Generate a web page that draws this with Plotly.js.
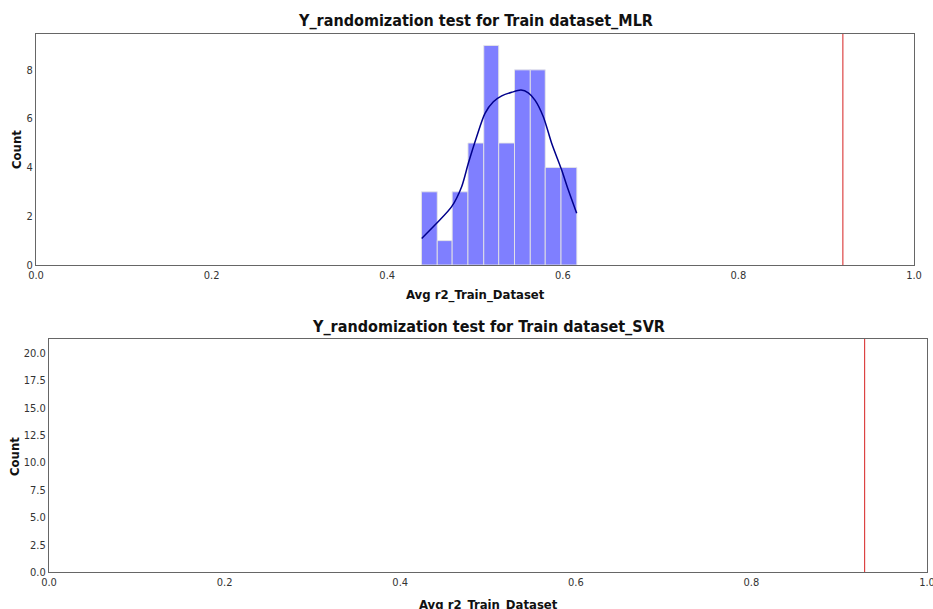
<!DOCTYPE html>
<html>
<head>
<meta charset="utf-8">
<script src="https://cdn.plot.ly/plotly-3.0.1.min.js"></script>
<style>html,body{margin:0;padding:0;background:#fff;}#chart{width:933px;height:609px;}</style>
</head>
<body>
<div id="chart"></div>
<script>
// Histogram of MLR Y-randomization r2 values (bin edges and counts)
const mlrBinEdges = [0.439, 0.457, 0.474, 0.492, 0.510, 0.527, 0.545, 0.563, 0.580, 0.598, 0.616];
const mlrCounts = [3, 1, 3, 5, 9, 5, 8, 8, 4, 4];
// KDE curve
const kdeX = [0.4393, 0.4563, 0.4734, 0.4848, 0.4924, 0.5019, 0.5114, 0.5209, 0.5304, 0.5418, 0.5524, 0.5607, 0.5683, 0.5778, 0.5873, 0.5987, 0.6063, 0.6158];
const kdeY = [1.09, 1.71, 2.39, 3.21, 4.17, 5.26, 6.22, 6.69, 6.93, 7.08, 7.17, 7.06, 6.76, 6.08, 4.99, 3.89, 3.07, 2.12];
// Actual model r2 values (red reference lines)
const mlrActualR2 = 0.919;
const svrActualR2 = 0.929;
// Axis ticks
const xTicks = [0.0, 0.2, 0.4, 0.6, 0.8, 1.0];
const yTicksTop = [0, 2, 4, 6, 8];
const yTicksBottom = [0, 2.5, 5, 7.5, 10, 12.5, 15, 17.5, 20];
const titles = ["Y_randomization test for Train dataset_MLR", "Y_randomization test for Train dataset_SVR"];
const xTitle = "Avg r2_Train_Dataset";
const yTitle = "Count";

const centers = mlrCounts.map((c, i) => (mlrBinEdges[i] + mlrBinEdges[i + 1]) / 2);
const widths = mlrCounts.map((c, i) => mlrBinEdges[i + 1] - mlrBinEdges[i]);

const tickFont = {family: "DejaVu Sans Condensed, DejaVu Sans", size: 11, color: "#333"};
const boldFont = (s) => ({family: "DejaVu Sans Condensed, DejaVu Sans", size: s, color: "#111", weight: "bold"});

const traces = [
  {type: "bar", x: centers, y: mlrCounts, width: widths, xaxis: "x", yaxis: "y",
   marker: {color: "rgba(0,0,255,0.5)", line: {color: "rgba(230,230,230,0.9)", width: 1}}, hoverinfo: "x+y"},
  {type: "scatter", mode: "lines", x: kdeX, y: kdeY, xaxis: "x", yaxis: "y",
   line: {color: "#00008b", width: 1.5, shape: "spline", smoothing: 0.8}},
  {type: "scatter", mode: "lines", x: [], y: [], xaxis: "x2", yaxis: "y2"}
];

const axBase = {showgrid: false, zeroline: false, showline: true, mirror: true, linecolor: "#666", linewidth: 1,
  ticks: "", tickfont: tickFont, fixedrange: true, ticklabeloverflow: "allow"};

const layout = {
  width: 933, height: 609,
  margin: {l: 0, r: 0, t: 0, b: 0},
  paper_bgcolor: "#fff", plot_bgcolor: "#fff",
  showlegend: false, bargap: 0,
  xaxis: Object.assign({}, axBase, {domain: [36/933, 914/933], range: [0, 1], tickvals: xTicks, tickformat: ".1f", anchor: "y"}),
  yaxis: Object.assign({}, axBase, {domain: [1 - 265/609, 1 - 34/609], range: [0, 9.47], tickvals: yTicksTop, anchor: "x"}),
  xaxis2: Object.assign({}, axBase, {domain: [49/933, 927/933], range: [0, 1], tickvals: xTicks, tickformat: ".1f", anchor: "y2"}),
  yaxis2: Object.assign({}, axBase, {domain: [1 - 572/609, 1 - 339/609], range: [0, 21.3], tickvals: yTicksBottom, tickformat: ".1f", anchor: "x2"}),
  shapes: [
    {type: "line", xref: "x", yref: "y domain", x0: mlrActualR2, x1: mlrActualR2, y0: 0, y1: 1, line: {color: "#d62020", width: 1}},
    {type: "line", xref: "x2", yref: "y2 domain", x0: svrActualR2, x1: svrActualR2, y0: 0, y1: 1, line: {color: "#d62020", width: 1}}
  ],
  annotations: [
    {text: titles[0], xref: "paper", yref: "paper", x: 475/933, y: 1 - 21/609, xanchor: "center", yanchor: "middle", showarrow: false, font: boldFont(16)},
    {text: titles[1], xref: "paper", yref: "paper", x: 488/933, y: 1 - 326/609, xanchor: "center", yanchor: "middle", showarrow: false, font: boldFont(16)},
    {text: xTitle, xref: "paper", yref: "paper", x: 475/933, y: 1 - 295/609, xanchor: "center", yanchor: "middle", showarrow: false, font: boldFont(13)},
    {text: xTitle, xref: "paper", yref: "paper", x: 488/933, y: 1 - 605/609, xanchor: "center", yanchor: "middle", showarrow: false, font: boldFont(13)},
    {text: yTitle, xref: "paper", yref: "paper", x: 16/933, y: 1 - 150/609, xanchor: "center", yanchor: "middle", showarrow: false, textangle: -90, font: boldFont(13)},
    {text: yTitle, xref: "paper", yref: "paper", x: 14/933, y: 1 - 457/609, xanchor: "center", yanchor: "middle", showarrow: false, textangle: -90, font: boldFont(13)}
  ]
};

Plotly.newPlot("chart", traces, layout, {displayModeBar: false, staticPlot: true});
</script>
</body>
</html>
